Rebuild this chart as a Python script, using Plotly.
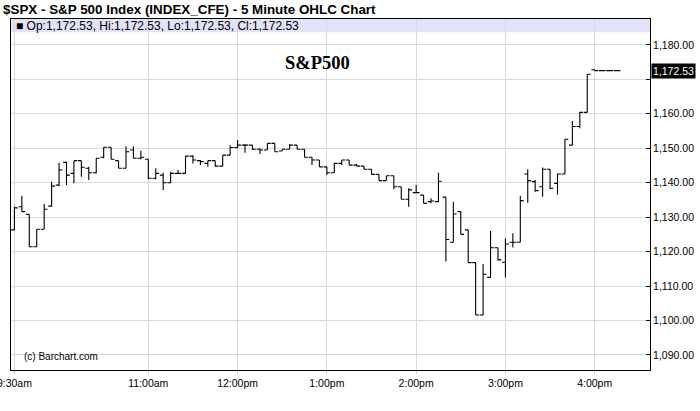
import plotly.graph_objects as go
import pandas as pd

# 5-minute bars, 9:30am .. 4:15pm
times = pd.date_range("2010-05-10 09:30", periods=82, freq="5min")

opens = [1126.3, 1133.0, 1130.8, 1121.4, 1126.5, 1133.2, 1139.3, 1145.9, 1142.7, 1146.4,
         1144.2, 1142.9, 1147.4, 1150.3, 1146.4, 1144.2, 1149.5, 1147.1, 1146.8, 1141.3,
         1142.2, 1140.0, 1142.7, 1142.7, 1147.7, 1146.4, 1145.6, 1146.4, 1144.8, 1148.0,
         1150.2, 1150.9, 1150.9, 1149.7, 1149.5, 1151.4, 1149.2, 1149.7, 1150.9, 1149.7,
         1147.4, 1146.6, 1144.6, 1142.9, 1145.6, 1146.6, 1145.1, 1144.8, 1143.9, 1142.4,
         1140.6, 1142.0, 1138.8, 1135.2, 1137.1, 1136.4, 1134.5, 1134.5, 1135.8, 1122.7,
         1131.6, 1126.3, 1116.8, 1101.6, 1112.5, 1121.1, 1116.9, 1122.7, 1122.7, 1142.5,
         1140.3, 1138.8, 1143.9, 1139.8, 1142.5, 1150.9, 1156.3, 1160.4, 1172.8, 1172.53,
         1172.53, 1172.53]
highs = [1133.0, 1136.2, 1130.8, 1126.5, 1133.8, 1140.3, 1145.8, 1146.1, 1146.4, 1146.4,
         1144.6, 1147.1, 1150.3, 1150.3, 1146.4, 1150.6, 1150.6, 1149.3, 1146.8, 1144.2,
         1142.9, 1143.2, 1143.7, 1147.7, 1148.0, 1146.6, 1146.4, 1146.4, 1148.0, 1150.9,
         1152.4, 1151.2, 1150.9, 1150.0, 1151.4, 1151.4, 1149.7, 1151.2, 1150.9, 1149.7,
         1147.4, 1146.6, 1144.6, 1145.8, 1146.6, 1146.6, 1145.4, 1144.8, 1143.9, 1142.4,
         1142.0, 1142.0, 1138.8, 1138.4, 1139.3, 1136.4, 1135.5, 1142.9, 1135.8, 1134.5,
         1131.6, 1126.3, 1116.8, 1116.4, 1126.0, 1121.2, 1123.8, 1125.3, 1136.2, 1143.9,
         1140.8, 1144.4, 1143.9, 1142.7, 1152.6, 1157.9, 1160.6, 1171.5, 1172.8, 1172.53,
         1172.53, 1172.53]
lows = [1126.3, 1131.6, 1121.4, 1121.4, 1126.5, 1133.0, 1139.0, 1139.3, 1139.8, 1141.7,
        1140.8, 1142.7, 1147.1, 1146.8, 1144.2, 1144.2, 1147.1, 1146.8, 1141.0, 1141.0,
        1137.9, 1139.8, 1142.7, 1142.7, 1145.6, 1145.1, 1144.6, 1144.6, 1144.8, 1148.0,
        1150.0, 1148.7, 1149.5, 1148.3, 1149.5, 1149.0, 1149.2, 1149.7, 1149.7, 1147.4,
        1145.1, 1144.6, 1142.2, 1142.9, 1145.1, 1145.1, 1144.8, 1143.9, 1142.4, 1140.6,
        1140.6, 1138.1, 1135.2, 1133.0, 1136.9, 1134.0, 1134.0, 1134.4, 1117.1, 1122.7,
        1125.0, 1116.8, 1101.6, 1101.6, 1112.5, 1117.4, 1112.5, 1121.2, 1122.7, 1134.2,
        1137.4, 1135.9, 1138.1, 1136.6, 1142.5, 1150.9, 1155.8, 1160.4, 1172.4, 1172.53,
        1172.53, 1172.53]
closes = [1132.7, 1131.6, 1121.4, 1126.5, 1132.3, 1139.0, 1143.7, 1142.2, 1146.4, 1144.5,
          1142.9, 1147.1, 1150.3, 1146.8, 1144.2, 1149.0, 1147.1, 1147.4, 1141.3, 1142.7,
          1140.0, 1142.7, 1142.7, 1147.7, 1146.6, 1146.1, 1146.4, 1144.8, 1148.0, 1150.2,
          1150.9, 1150.9, 1149.7, 1149.5, 1151.4, 1149.0, 1149.7, 1150.9, 1149.7, 1147.4,
          1146.6, 1144.6, 1142.9, 1145.6, 1146.6, 1145.1, 1144.8, 1143.9, 1142.4, 1140.6,
          1142.0, 1138.8, 1135.2, 1137.9, 1137.1, 1134.0, 1134.7, 1140.4, 1123.5, 1130.9,
          1125.0, 1116.8, 1101.6, 1113.4, 1121.1, 1117.6, 1122.2, 1122.7, 1134.8, 1140.6,
          1137.7, 1143.9, 1138.4, 1142.5, 1152.6, 1156.3, 1160.4, 1171.5, 1172.53, 1172.53,
          1172.53, 1172.53]

x_tickvals = ["2010-05-10 09:30", "2010-05-10 11:00", "2010-05-10 12:00", "2010-05-10 13:00",
              "2010-05-10 14:00", "2010-05-10 15:00", "2010-05-10 16:00"]
x_ticktext = ["9:30am", "11:00am", "12:00pm", "1:00pm", "2:00pm", "3:00pm", "4:00pm"]
y_tickvals = [1090, 1100, 1110, 1120, 1130, 1140, 1150, 1160, 1170, 1180]
# the 1,170.00 label is hidden behind the last-price box in the reference
y_ticktext = ["1,090.00", "1,100.00", "1,110.00", "1,120.00", "1,130.00", "1,140.00",
              "1,150.00", "1,160.00", "", "1,180.00"]
last_price = 1172.53
chart_title = "$SPX - S&P 500 Index (INDEX_CFE) - 5 Minute OHLC Chart"
info_text = "■ Op:1,172.53, Hi:1,172.53, Lo:1,172.53, Cl:1,172.53"

FONT = "Liberation Sans, Arial, sans-serif"

fig = go.Figure(go.Ohlc(
    x=times, open=opens, high=highs, low=lows, close=closes,
    increasing=dict(line=dict(color="black", width=1.1)),
    decreasing=dict(line=dict(color="black", width=1.1)),
    tickwidth=0.45, hoverinfo="skip", showlegend=False,
))

fig.update_layout(
    width=700, height=411,
    margin=dict(l=11, r=50, t=19, b=41, autoexpand=False),
    paper_bgcolor="white", plot_bgcolor="white",
    font=dict(family=FONT, size=11, color="black"),
    title=dict(text="<b>" + chart_title + "</b>", x=3 / 700, xanchor="left",
               y=1 - 9 / 411, yanchor="middle", xref="container", yref="container",
               font=dict(family=FONT, size=13.4, color="black"), automargin=False),
    xaxis=dict(
        type="date", range=["2010-05-10 09:27:43", "2010-05-10 16:37:10"],
        rangeslider=dict(visible=False), automargin=False,
        tickvals=x_tickvals, ticktext=x_ticktext, ticklabeloverflow="allow",
        showgrid=True, gridcolor="#d9d9d9", gridwidth=1,
        ticks="outside", ticklen=3, tickcolor="#cccccc",
        showline=True, linecolor="black", linewidth=1, mirror=True,
        tickfont=dict(family=FONT, size=10.5, color="black"),
        zeroline=False,
    ),
    yaxis=dict(
        side="right", range=[1085.62, 1187.52], automargin=False,
        tickvals=y_tickvals, ticktext=y_ticktext, ticklabeloverflow="allow",
        showgrid=True, gridcolor="#d9d9d9", gridwidth=1,
        ticks="inside", ticklen=4, tickcolor="black",
        showline=True, linecolor="black", linewidth=1, mirror=True,
        tickfont=dict(family=FONT, size=10.5, color="black"),
        zeroline=False,
    ),
    shapes=[dict(type="rect", xref="paper", yref="y", x0=0, x1=1, y0=1183.66, y1=1187.52,
                 fillcolor="#e2e2f8", line=dict(width=0), layer="below")],
    annotations=[
        dict(text=info_text, xref="paper", yref="y", x=0.005, y=1185.6,
             xanchor="left", yanchor="middle", showarrow=False,
             font=dict(family=FONT, size=12, color="black")),
        dict(text="<b>S&P500</b>", xref="paper", yref="y", x=0.48, y=1174.7,
             xanchor="center", yanchor="middle", showarrow=False,
             font=dict(family="Liberation Serif, Times New Roman, serif", size=18.5, color="black")),
        dict(text="(c) Barchart.com", xref="paper", yref="y", x=0.017, y=1089.4,
             xanchor="left", yanchor="middle", showarrow=False,
             font=dict(family=FONT, size=10, color="black")),
        dict(text=f"{last_price:,.2f}", xref="paper", yref="y", x=1, y=last_price,
             xanchor="left", yanchor="middle", xshift=1, showarrow=False,
             bgcolor="black", borderpad=1,
             font=dict(family=FONT, size=10.5, color="white")),
    ],
)

fig.write_html("out.html", config={"displayModeBar": False},
               post_script="document.body.style.margin='0px';document.body.style.overflow='hidden';")
